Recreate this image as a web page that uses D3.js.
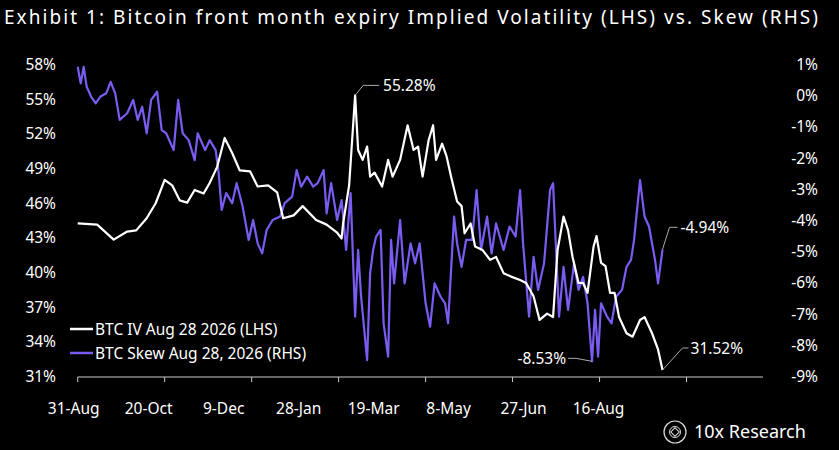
<!DOCTYPE html>
<html>
<head>
<meta charset="utf-8">
<script src="https://cdn.jsdelivr.net/npm/d3@7"></script>
<style>
  body { margin: 0; background: #000; }
  svg { display: block; font-family: 'Noto Sans', sans-serif; }
</style>
</head>
<body>
<svg id="chart" width="839" height="450"></svg>
<script>
// 数据：天数偏移（自 2025-08-31 起）与数值
const startDate = new Date(2025, 7, 31)
const ivDays = [0, 13, 24, 33, 39, 46, 52, 58, 63, 68, 73, 78, 84, 88, 93, 98, 103, 108, 115, 120, 127, 133, 137, 144, 150, 159, 166, 173, 176, 177, 181, 185,
  187, 190, 193, 195, 198, 203, 207, 210, 215, 220, 224, 227, 230, 234, 237, 239, 243, 246, 249, 253, 256, 258, 262, 265, 270, 275, 279, 284, 289, 295, 299,
  304, 308, 313, 317, 320, 324, 327, 330, 334, 337, 340, 344, 346, 349, 352, 355, 358, 361, 366, 370, 375, 378, 383, 387, 390]
const ivValues = [44.2, 44.1, 42.8, 43.5, 43.6, 44.65, 45.95, 47.97, 47.5, 46.2, 46.0, 47.1, 46.8, 47.7, 49.1, 51.6, 50.3, 48.8, 48.7, 47.4, 47.5, 46.9, 44.65, 44.9, 45.7, 44.5, 44.1, 43.4, 42.9, 44.2, 47.5, 55.28,
  50.56, 49.7, 50.85, 48.25, 48.6, 47.4, 49.7, 48.25, 49.7, 52.7, 50.56, 50.85, 48.25, 51.4, 52.7, 49.7, 51.1, 50.0, 48.25, 46.1, 45.7, 43.35, 44.2, 42.2, 41.9, 41.05, 41.3, 39.9, 39.6, 39.3, 39.05,
  37.9, 35.85, 36.4, 36.1, 41.9, 44.8, 43.6, 41.3, 39.05, 39.05, 38.2, 42.2, 43.1, 40.8, 40.5, 38.2, 38.2, 36.1, 34.7, 34.4, 35.85, 36.1, 34.7, 33.3, 31.52]
const skewDays = [0, 2, 4, 6, 9, 12, 15, 19, 22, 25, 28, 33, 37, 40, 43, 46, 49, 53, 56, 59, 64, 67, 70, 74, 78, 80, 85, 88, 92, 94, 96, 99, 103, 106, 110, 114, 117, 120, 123, 126, 130, 135, 138, 143, 146, 149, 153, 157, 160, 164, 166, 169, 173, 176, 179, 182,
  185, 187, 189, 193, 195, 197, 199, 202, 204, 207, 209, 211, 215, 218, 222, 225, 228, 232, 235, 238, 242, 245, 247, 251, 253, 256, 259, 263, 266, 269, 273, 276, 279, 284, 288, 292, 295, 297, 301, 304, 307, 311, 315, 317,
  321, 324, 327, 331, 334, 337, 340, 343, 345, 347, 349, 353, 356, 359, 363, 366, 369, 371, 375, 378, 381, 385, 387, 390]
const skewValues = [0.91, 0.38, 0.91, 0.27, -0.05, -0.26, -0.05, 0.06, 0.43, 0.06, -0.79, -0.58, -0.15, -0.79, -0.37, -1.22, -0.15, 0.11, -1.12, -1.22, -1.76, -0.15, -1.22, -1.44, -2.08, -1.22, -1.76, -1.44, -1.76, -2.5, -3.68, -3.14, -3.46, -2.82, -3.57, -4.64, -4.0, -4.75, -5.07, -4.32, -4.0, -3.89, -3.46, -3.25, -2.4, -2.93, -2.61, -2.93, -2.82, -2.4, -3.79, -2.82, -4.0, -3.36, -4.96, -3.14,
  -7.1, -4.96, -6.46, -8.49, -5.71, -4.96, -4.53, -4.32, -7.31, -8.38, -4.64, -6.03, -4.0, -6.03, -4.75, -5.39, -4.75, -6.67, -7.42, -6.03, -6.46, -6.67, -7.31, -3.89, -4.75, -5.5, -4.64, -4.64, -3.04, -4.96, -3.89, -5.07, -4.11, -4.96, -4.21, -4.53, -3.04, -4.75, -7.1, -5.18, -6.24, -5.39, -3.04, -2.82,
  -7.1, -5.5, -6.88, -5.39, -6.24, -5.82, -6.67, -8.53, -6.88, -8.38, -6.67, -7.1, -7.31, -6.46, -6.24, -5.5, -5.28, -4.64, -2.72, -3.89, -4.21, -5.28, -6.03, -4.94]
const xLabelDays = [0, 50, 100, 150, 200, 250, 300, 350]
const xTickDays = [0, 58, 116, 174, 232, 290, 348, 406]
const leftTicks = [31, 34, 37, 40, 43, 46, 49, 52, 55, 58]
const rightTicks = [1, 0, -1, -2, -3, -4, -5, -6, -7, -8, -9]

const day = d => d3.timeDay.offset(startDate, d)
const fmt = d3.timeFormat('%-d-%b')

const svg = d3.select('#chart')
svg.append('rect').attr('width', 839).attr('height', 450).attr('fill', '#000')

const x = d3.scaleTime().domain([day(0), day(457)]).range([77.7, 763])
const yL = d3.scaleLinear().domain([31, 58]).range([376, 64])
const yR = d3.scaleLinear().domain([-9, 1]).range([376, 64])

// 标题
svg.append('text').attr('x', 4).attr('y', 24).attr('fill', '#fff')
  .attr('font-size', 19).attr('textLength', 814).attr('lengthAdjust', 'spacing')
  .text('Exhibit 1: Bitcoin front month expiry Implied Volatility (LHS) vs. Skew (RHS)')

// 左轴 / 右轴标签
svg.selectAll('.ly').data(leftTicks).join('text')
  .attr('x', 56).attr('y', d => yL(d) + 6).attr('text-anchor', 'end')
  .attr('fill', '#fff').attr('font-size', 15.5).text(d => d + '%')
svg.selectAll('.ry').data(rightTicks).join('text')
  .attr('x', 818).attr('y', d => yR(d) + 6).attr('text-anchor', 'end')
  .attr('fill', '#fff').attr('font-size', 15.5).text(d => d + '%')

// x 轴
svg.append('line').attr('x1', x(day(0))).attr('x2', x(day(457)))
  .attr('y1', 377).attr('y2', 377).attr('stroke', '#ccc').attr('stroke-width', 1)
svg.selectAll('.xt').data(xTickDays).join('line')
  .attr('x1', d => x(day(d))).attr('x2', d => x(day(d)))
  .attr('y1', 377).attr('y2', 382).attr('stroke', '#ccc')
svg.selectAll('.xl').data(xLabelDays).join('text')
  .attr('x', d => x(day(d)) - 4).attr('y', 414).attr('text-anchor', 'middle')
  .attr('fill', '#fff').attr('font-size', 15.5).text(d => fmt(day(d)))

// 折线
const skewLine = d3.line().x(d => x(day(d[0]))).y(d => yR(d[1]))
const ivLine = d3.line().x(d => x(day(d[0]))).y(d => yL(d[1]))
svg.append('path').datum(d3.zip(skewDays, skewValues)).attr('d', skewLine)
  .attr('fill', 'none').attr('stroke', '#7b5cf2').attr('stroke-width', 2.2).attr('stroke-linejoin', 'round')
svg.append('path').datum(d3.zip(ivDays, ivValues)).attr('d', ivLine)
  .attr('fill', 'none').attr('stroke', '#fff').attr('stroke-width', 2.2).attr('stroke-linejoin', 'round')

// 标注
const notes = [
  { d: 185, v: 55.28, s: yL, pts: [[0, 0], [8, -10], [24, -10]], tx: 28, ty: -4, anchor: 'start', txt: '55.28%' },
  { d: 390, v: -4.94, s: yR, pts: [[0, 0], [7, -22], [15, -22]], tx: 18, ty: -16, anchor: 'start', txt: '-4.94%' },
  { d: 390, v: 31.52, s: yL, pts: [[0, 0], [20, -22], [26, -22]], tx: 28, ty: -16, anchor: 'start', txt: '31.52%' },
  { d: 343, v: -8.53, s: yR, pts: [[0, 0], [-16, -3], [-24, -3]], tx: -26, ty: 3, anchor: 'end', txt: '-8.53%' }
]
notes.forEach(n => {
  const px = x(day(n.d)), py = n.s(n.v)
  svg.append('polyline').attr('points', n.pts.map(p => [px + p[0], py + p[1]].join(',')).join(' '))
    .attr('fill', 'none').attr('stroke', '#aaa').attr('stroke-width', 1)
  svg.append('text').attr('x', px + n.tx).attr('y', py + n.ty).attr('text-anchor', n.anchor)
    .attr('fill', '#fff').attr('font-size', 15.5).text(n.txt)
})

// 图例
const legend = [['BTC IV Aug 28 2026 (LHS)', '#fff'], ['BTC Skew Aug 28, 2026 (RHS)', '#7b5cf2']]
legend.forEach((l, i) => {
  const ly = 329 + i * 24
  svg.append('line').attr('x1', 70).attr('x2', 93).attr('y1', ly).attr('y2', ly)
    .attr('stroke', l[1]).attr('stroke-width', 2.5)
  svg.append('text').attr('x', 95).attr('y', ly + 6).attr('fill', '#fff')
    .attr('font-size', 15.5).text(l[0])
})

// 标志
const logo = svg.append('g').attr('transform', 'translate(675,432)')
logo.append('circle').attr('r', 11).attr('fill', 'none').attr('stroke', '#ddd').attr('stroke-width', 1.2)
logo.append('circle').attr('r', 5.5).attr('fill', 'none').attr('stroke', '#ddd').attr('stroke-width', 1)
logo.append('rect').attr('x', -3).attr('y', -3).attr('width', 6).attr('height', 6)
  .attr('fill', 'none').attr('stroke', '#ddd').attr('transform', 'rotate(45)')
svg.append('text').attr('x', 694).attr('y', 438).attr('fill', '#fff')
  .attr('font-size', 18).text('10x Research')
</script>
</body>
</html>
